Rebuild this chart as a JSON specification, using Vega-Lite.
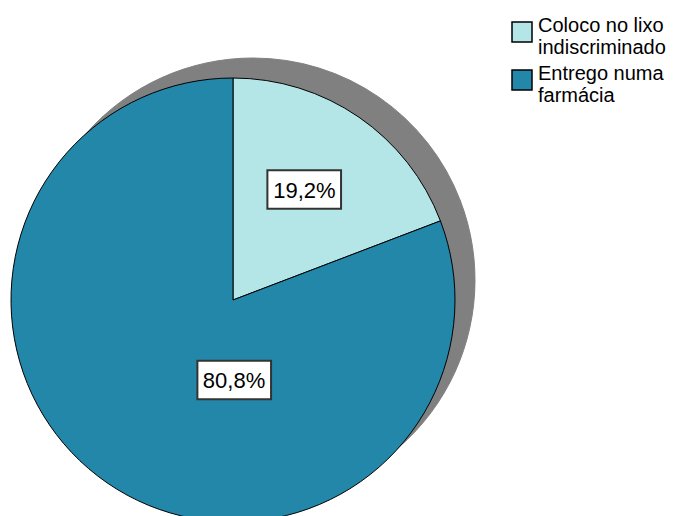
{
  "$schema": "https://vega.github.io/schema/vega-lite/v6.json",
  "width": 466,
  "height": 600,
  "autosize": {"type": "none"},
  "padding": {"left": 0, "top": 0, "right": 207, "bottom": 0},
  "background": "white",
  "view": {"stroke": null},
  "data": {
    "values": [
      {"cat": "Coloco no lixo indiscriminado", "pct": 19.2, "label": "19,2%"},
      {"cat": "Entrego numa farmácia", "pct": 80.8, "label": "80,8%"}
    ]
  },
  "encoding": {
    "theta": {"field": "pct", "type": "quantitative", "stack": true},
    "order": {"field": "cat"}
  },
  "layer": [
    {
      "mark": {"type": "arc", "radius": 222, "xOffset": 20, "yOffset": -20, "fill": "#808080", "stroke": "#808080", "strokeWidth": 1}
    },
    {
      "mark": {"type": "arc", "radius": 222, "stroke": "#000000", "strokeWidth": 1},
      "encoding": {
        "color": {
          "field": "cat",
          "type": "nominal",
          "scale": {"domain": ["Coloco no lixo indiscriminado", "Entrego numa farmácia"], "range": ["#b4e5e7", "#2387a9"]},
          "legend": {
            "orient": "none",
            "legendX": 511,
            "legendY": 21,
            "padding": 0,
            "title": null,
            "symbolType": "square",
            "symbolSize": 400,
            "symbolStrokeColor": "#000000",
            "symbolStrokeWidth": 1.5,
            "symbolOpacity": 1,
            "labelFont": "Liberation Sans",
            "labelFontSize": 20,
            "labelColor": "#000000",
            "labelBaseline": "alphabetic",
            "labelOffset": 5,
            "labelLimit": 0,
            "rowPadding": 6,
            "labelExpr": "datum.value == 'Coloco no lixo indiscriminado' ? ['Coloco no lixo', 'indiscriminado'] : ['Entrego numa', 'farmácia']"
          }
        }
      }
    },
    {
      "transform": [{"filter": "datum.cat == 'Coloco no lixo indiscriminado'"}],
      "mark": {"type": "text", "radius": 133, "text": "█", "font": "DejaVu Sans Mono", "fontSize": 62, "angle": 90, "align": "center", "baseline": "alphabetic", "dx": -1, "dy": 25, "fill": "#ffffff", "stroke": "#333333", "strokeWidth": 2}
    },
    {
      "transform": [{"filter": "datum.cat == 'Coloco no lixo indiscriminado'"}],
      "mark": {"type": "text", "radius": 133, "font": "Liberation Sans", "fontSize": 22, "align": "center", "baseline": "middle", "dx": -4, "dy": 1, "color": "#000000"},
      "encoding": {"text": {"field": "label"}}
    },
    {
      "transform": [{"filter": "datum.cat == 'Entrego numa farmácia'"}],
      "mark": {"type": "text", "radius": 97, "text": "█", "font": "DejaVu Sans Mono", "fontSize": 62, "angle": 90, "align": "center", "baseline": "alphabetic", "dx": 0, "dy": 75, "fill": "#ffffff", "stroke": "#333333", "strokeWidth": 2}
    },
    {
      "transform": [{"filter": "datum.cat == 'Entrego numa farmácia'"}],
      "mark": {"type": "text", "radius": 97, "font": "Liberation Sans", "fontSize": 22, "align": "center", "baseline": "middle", "dx": -54, "dy": 1, "color": "#000000"},
      "encoding": {"text": {"field": "label"}}
    }
  ]
}
